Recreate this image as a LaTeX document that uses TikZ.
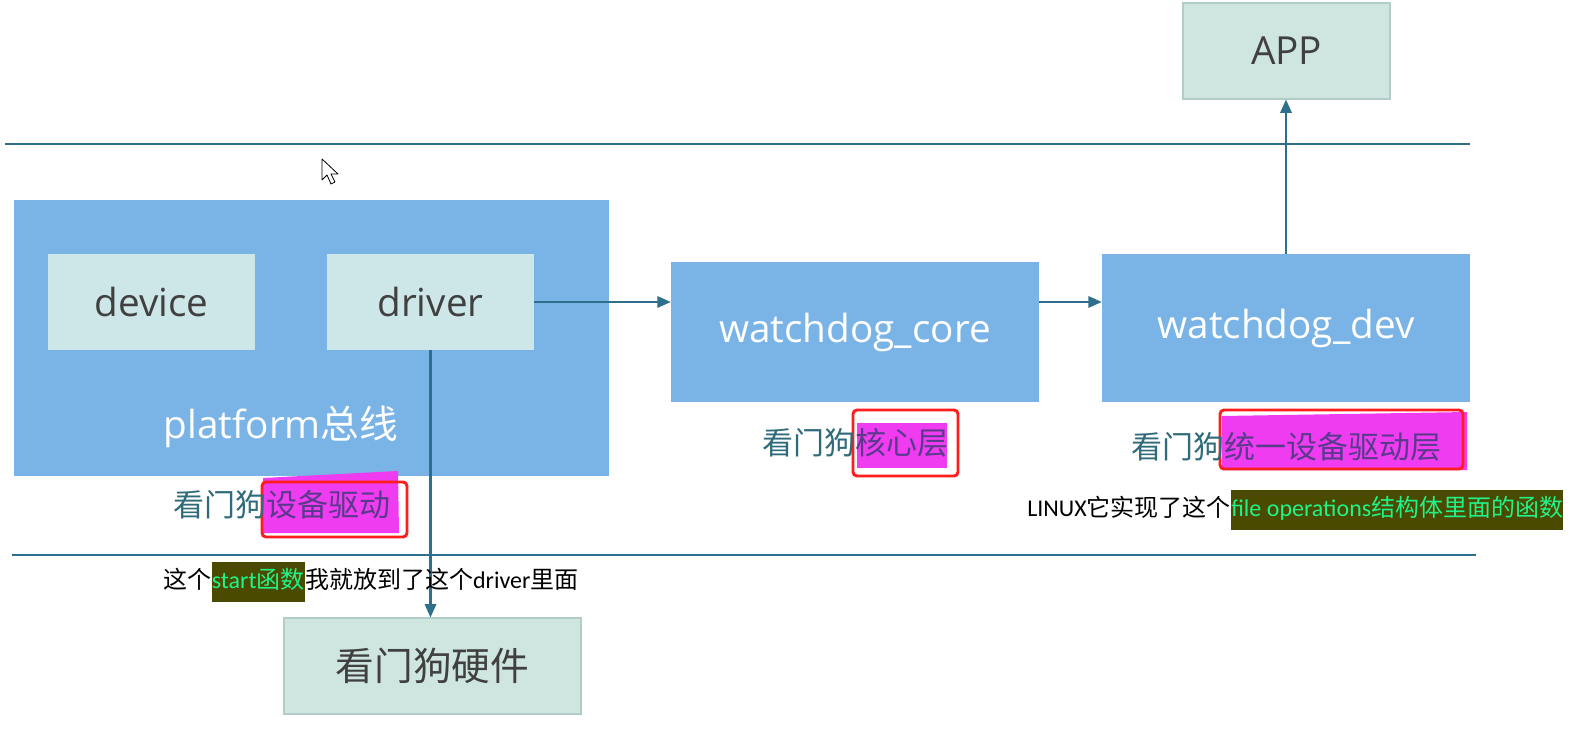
\documentclass[tikz,border=0pt]{standalone}
\usepackage{fontspec}
\setmainfont{Open Sans}
\newfontfamily\cjk{Noto Sans CJK SC}
\newfontfamily\lat{Carlito}
\usetikzlibrary{arrows.meta,calc}
\definecolor{boxblue}{RGB}{122,180,230}
\definecolor{lightbg}{RGB}{205,230,232}
\definecolor{appbg}{RGB}{207,230,224}
\definecolor{boxborder}{RGB}{178,205,200}
\definecolor{boxtext}{RGB}{64,64,64}
\definecolor{linecol}{RGB}{46,112,140}
\definecolor{lbltext}{RGB}{47,107,123}
\definecolor{hlmag}{RGB}{240,60,240}
\definecolor{hlpurple}{RGB}{90,58,140}
\definecolor{hlred}{RGB}{255,30,30}
\definecolor{olive}{RGB}{74,74,0}
\definecolor{mint}{RGB}{34,242,138}
\begin{document}
\begin{tikzpicture}[x=0.75pt,y=-0.75pt,
  box/.style={inner sep=0pt, anchor=center},
  bluebox/.style={box, fill=boxblue, text=white, font=\fontsize{29}{34}\selectfont},
  lightbox/.style={box, fill=lightbg, text=boxtext, font=\fontsize{29}{34}\selectfont},
  framedbox/.style={box, fill=appbg, draw=boxborder, line width=0.8pt, text=boxtext, font=\fontsize{29}{34}\selectfont},
  conn/.style={draw=linecol, line width=1.6pt, -{Triangle[length=10pt,width=8.5pt]}},
  sepline/.style={draw=linecol, line width=1.5pt},
  lbl/.style={inner sep=0pt, text=lbltext, font=\cjk\fontsize{23.25}{28}\selectfont},
  magfill/.style={fill=hlmag},
  redframe/.style={draw=hlred, line width=2.2pt, rounded corners=3pt},
  ovl/.style={inner xsep=0pt, inner ysep=0pt, text height=13.5pt, text depth=4pt, text=black, font=\fontsize{18}{21}\selectfont},
  ovlhl/.style={ovl, fill=olive, text=mint, inner ysep=6.5pt}
]
\fill[white] (0,0) rectangle (1582,732);
\useasboundingbox (0,0) rectangle (1582,732);

% separator lines
\draw[sepline] (5,144) -- (1470,144);
\draw[sepline] (12,555) -- (1476,555);

% boxes
\node[framedbox, minimum width=155.25pt, minimum height=72pt] (app) at (1286.5,51) {APP};
\node[box, fill=boxblue, minimum width=446.25pt, minimum height=207pt] (platform) at (311.5,338) {};
\node[lightbox, minimum width=155.25pt, minimum height=72pt] (device) at (151.5,302) {device};
\node[lightbox, minimum width=155.25pt, minimum height=72pt] (driver) at (430.5,302) {driver};
\node[bluebox, inner sep=0pt] (platlabel) at (281,427) {platform{\cjk 总线}};
\node[bluebox, minimum width=276pt, minimum height=105pt] (core) at (855,332) {watchdog\_core};
\node[bluebox, minimum width=276pt, minimum height=111pt] (dev) at (1286,328) {watchdog\_dev};
\node[framedbox, minimum width=222.75pt, minimum height=72pt] (hw) at (432.5,666) {{\cjk 看门狗硬件}};

% connectors
\draw[conn] (driver.east) -- (driver.east -| core.west);
\draw[conn] (core.east |- driver.east) -- (dev.west |- driver.east);
\draw[conn] (dev.north) -- (dev.north |- app.south);
\draw[conn] (driver.south) -- (driver.south |- hw.north);

% highlighted labels
\fill[magfill] (263,478) -- (398,471) -- (399,533) -- (263,533) -- cycle;
\draw[redframe] (262,482) rectangle (407,537);
\node[lbl, anchor=west] (lab1) at (173,505) {看门狗{\color{hlpurple}设备驱动}};

\fill[magfill] (857,423) rectangle (947,468);
\draw[redframe] (853,410) rectangle (958,476);
\node[lbl, anchor=west] (lab2) at (762,443) {看门狗{\color{hlpurple}核心层}};

\fill[magfill] (1222,416) -- (1467,412) -- (1467,470) -- (1222,470) -- cycle;
\draw[redframe] (1220,410) rectangle (1463,469);
\node[lbl, anchor=west] (lab3) at (1131,447) {看门狗{\color{hlpurple}统一设备驱动层}};

% annotation texts
\node[ovl, anchor=west] (linA) at (1027,510) {{\lat LINUX}{\cjk 它实现了这个}};
\node[ovlhl, anchor=west] (linB) at (linA.east) {{\lat file operations}{\cjk 结构体里面的函数}};

\node[ovl, anchor=west] (stA) at (163,582) {{\cjk 这个}};
\node[ovlhl, anchor=west] (stB) at (stA.east) {{\lat start}{\cjk 函数}};
\node[ovl, anchor=west] (stC) at (stB.east) {{\cjk 我就放到了这个}{\lat driver}{\cjk 里面}};

% mouse cursor
\draw[black, line width=0.6pt, fill=white, line join=round]
  (322,159) -- (322,180) -- (327,175) -- (331,184) -- (335,182) -- (331,174) -- (338,174) -- cycle;
\end{tikzpicture}
\end{document}
